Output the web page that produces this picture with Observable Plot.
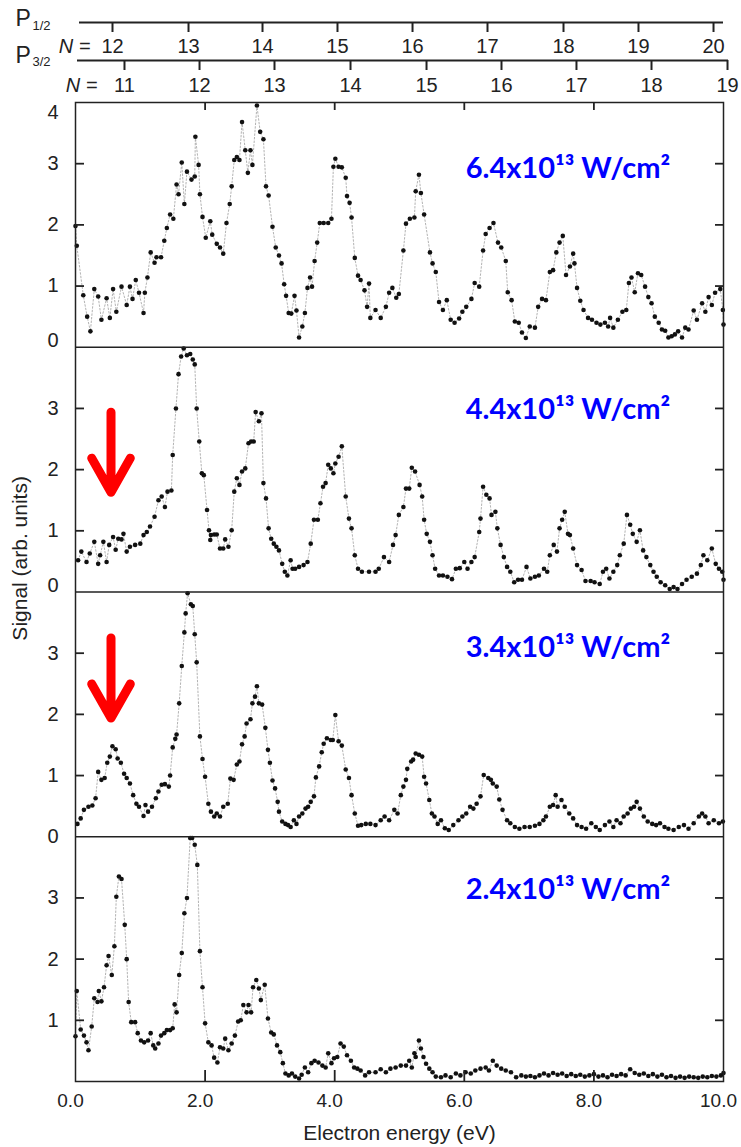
<!DOCTYPE html>
<html>
<head>
<meta charset="utf-8">
<script src="https://cdn.jsdelivr.net/npm/d3@7"></script>
<script src="https://cdn.jsdelivr.net/npm/@observablehq/plot@0.6"></script>
<style>
  html, body { margin: 0; padding: 0; background: #fff; }
  #chart svg { display: block; }
</style>
</head>
<body>
<div id="chart"></div>
<script>
// ---------------- data ----------------
const intensityLabels = ["6.4x10\u00b9\u00b3 W/cm\u00b2", "4.4x10\u00b9\u00b3 W/cm\u00b2", "3.4x10\u00b9\u00b3 W/cm\u00b2", "2.4x10\u00b9\u00b3 W/cm\u00b2"];

// 6.4e13 W/cm2 (top panel)
const e64 = [0.00,0.02,0.12,0.18,0.23,0.29,0.35,0.40,0.48,0.53,0.58,0.63,0.71,0.79,0.84,0.88,0.93,0.98,1.05,1.07,1.11,1.16,1.22,1.25,1.32,1.37,1.41,1.46,1.51,1.56,1.59,1.64,1.68,1.72,1.79,1.84,1.85,1.90,1.92,1.96,2.01,2.08,2.11,2.18,2.23,2.28,2.33,2.38,2.41,2.45,2.49,2.53,2.57,2.62,2.66,2.70,2.73,2.80,2.85,2.90,2.94,2.98,3.04,3.09,3.14,3.18,3.22,3.25,3.29,3.33,3.38,3.41,3.45,3.50,3.54,3.58,3.62,3.65,3.69,3.73,3.77,3.83,3.90,3.95,3.98,4.01,4.06,4.11,4.17,4.19,4.23,4.26,4.31,4.36,4.40,4.46,4.50,4.53,4.55,4.63,4.71,4.79,4.84,4.89,4.95,4.99,5.06,5.10,5.16,5.23,5.25,5.30,5.33,5.38,5.47,5.51,5.56,5.61,5.67,5.73,5.79,5.85,5.92,5.97,6.03,6.11,6.16,6.23,6.29,6.33,6.39,6.45,6.52,6.57,6.64,6.67,6.73,6.78,6.84,6.89,6.95,7.01,7.09,7.14,7.20,7.26,7.32,7.37,7.42,7.47,7.52,7.57,7.63,7.68,7.70,7.74,7.79,7.84,7.91,7.97,8.04,8.10,8.17,8.22,8.25,8.30,8.37,8.44,8.50,8.54,8.58,8.63,8.68,8.73,8.79,8.84,8.89,8.94,9.00,9.05,9.10,9.15,9.20,9.25,9.30,9.36,9.41,9.46,9.54,9.59,9.67,9.72,9.77,9.82,9.87,9.95,9.99,10.00];
const s64 = [1.98,1.66,0.85,0.50,0.26,0.95,0.83,0.45,0.80,0.48,0.95,0.58,0.99,0.69,0.99,0.79,1.10,0.89,0.56,0.89,1.14,1.55,1.38,1.47,1.47,1.74,1.95,2.17,2.10,2.66,2.50,3.02,2.34,2.87,2.74,2.79,3.44,2.98,2.50,2.13,1.79,2.06,1.84,1.69,1.63,1.53,2.03,2.34,2.63,3.06,3.11,3.06,3.68,3.22,2.85,3.22,2.98,3.95,3.52,3.40,2.63,2.48,1.97,1.63,1.50,1.37,1.03,0.84,0.56,0.55,0.84,0.60,0.16,0.34,0.56,0.97,1.14,0.99,1.41,1.71,2.03,2.03,2.03,2.10,2.95,3.08,2.95,2.94,2.77,2.47,2.36,2.12,1.46,1.17,1.10,0.93,0.66,1.04,0.48,0.61,0.48,0.66,0.89,0.97,0.81,0.87,1.58,2.02,2.10,2.12,2.55,2.82,2.52,2.17,1.55,1.37,1.23,0.74,0.61,0.77,0.45,0.40,0.47,0.58,0.66,0.79,1.05,0.99,1.58,1.85,1.95,2.03,1.71,1.63,1.41,0.90,0.77,0.42,0.40,0.24,0.15,0.34,0.32,0.66,0.79,0.77,1.23,1.26,1.55,1.71,1.82,1.18,1.32,1.53,1.37,0.97,0.76,0.61,0.48,0.45,0.40,0.37,0.40,0.34,0.48,0.32,0.45,0.58,0.61,1.05,1.14,0.90,1.21,1.18,0.99,0.82,0.72,0.50,0.40,0.29,0.27,0.16,0.18,0.21,0.26,0.16,0.32,0.29,0.60,0.45,0.72,0.58,0.82,0.69,0.89,0.95,0.61,0.37];

// 4.4e13 W/cm2
const e44 = [0.04,0.09,0.17,0.22,0.29,0.35,0.38,0.43,0.48,0.52,0.58,0.62,0.66,0.71,0.74,0.79,0.84,0.92,1.00,1.05,1.10,1.15,1.22,1.28,1.33,1.38,1.42,1.48,1.50,1.55,1.59,1.63,1.67,1.72,1.77,1.81,1.84,1.87,1.91,1.95,1.98,2.03,2.06,2.08,2.09,2.14,2.18,2.23,2.28,2.31,2.36,2.41,2.45,2.49,2.53,2.57,2.62,2.67,2.71,2.75,2.78,2.83,2.87,2.90,2.94,2.98,3.02,3.06,3.10,3.14,3.19,3.23,3.27,3.32,3.35,3.39,3.45,3.52,3.58,3.63,3.68,3.74,3.78,3.82,3.86,3.90,3.94,3.98,4.01,4.06,4.11,4.17,4.22,4.26,4.31,4.36,4.42,4.53,4.63,4.68,4.76,4.84,4.90,4.94,4.99,5.06,5.10,5.15,5.19,5.24,5.31,5.35,5.38,5.42,5.47,5.51,5.55,5.61,5.67,5.74,5.81,5.87,5.93,6.00,6.05,6.11,6.16,6.23,6.25,6.29,6.34,6.39,6.42,6.48,6.51,6.56,6.61,6.66,6.71,6.77,6.83,6.89,6.96,7.02,7.09,7.15,7.23,7.28,7.32,7.38,7.43,7.47,7.51,7.55,7.60,7.63,7.68,7.74,7.81,7.87,7.95,8.01,8.09,8.14,8.19,8.24,8.30,8.36,8.40,8.46,8.51,8.56,8.60,8.66,8.71,8.76,8.81,8.87,8.92,8.97,9.03,9.10,9.17,9.23,9.29,9.36,9.43,9.51,9.59,9.65,9.69,9.75,9.82,9.88,9.93,9.98,10.00];
const s44 = [0.52,0.66,0.49,0.63,0.82,0.46,0.60,0.82,0.49,0.77,0.90,0.69,0.87,0.86,0.95,0.66,0.74,0.77,0.79,0.93,0.98,1.07,1.23,1.50,1.56,1.39,1.64,1.66,2.24,3.00,3.56,3.85,3.98,3.87,3.89,3.80,3.72,3.00,2.46,1.94,1.91,1.34,1.01,0.85,0.93,0.94,0.94,0.71,0.71,0.86,0.74,1.01,1.64,1.86,1.75,1.97,2.02,2.43,2.46,2.46,2.94,2.79,2.92,1.78,1.53,1.04,0.87,0.79,0.74,0.68,0.46,0.33,0.27,0.52,0.38,0.38,0.41,0.44,0.49,0.79,1.18,1.18,1.45,1.72,1.78,2.08,2.02,1.94,2.10,2.21,2.38,1.56,1.20,1.04,0.60,0.38,0.33,0.33,0.33,0.38,0.57,0.49,0.77,0.93,1.26,1.39,1.69,1.69,2.03,1.97,1.75,1.56,1.18,0.95,0.82,0.60,0.38,0.27,0.27,0.25,0.21,0.38,0.39,0.49,0.38,0.49,0.57,0.98,1.20,1.72,1.59,1.53,1.26,1.31,1.04,0.77,0.57,0.41,0.33,0.16,0.20,0.20,0.41,0.22,0.25,0.27,0.38,0.33,0.60,0.77,0.66,1.04,1.18,1.31,0.95,0.93,0.71,0.44,0.36,0.18,0.18,0.16,0.13,0.33,0.38,0.22,0.33,0.44,0.60,0.79,1.26,1.10,0.95,0.82,1.01,0.68,0.57,0.44,0.33,0.25,0.16,0.11,0.05,0.08,0.05,0.13,0.20,0.25,0.30,0.44,0.60,0.52,0.71,0.46,0.38,0.33,0.20];

// 3.4e13 W/cm2
const e34 = [0.03,0.08,0.13,0.20,0.26,0.31,0.35,0.40,0.45,0.49,0.53,0.57,0.62,0.65,0.70,0.75,0.79,0.84,0.89,0.94,0.98,1.05,1.08,1.12,1.18,1.24,1.28,1.33,1.38,1.44,1.46,1.50,1.54,1.56,1.60,1.64,1.68,1.70,1.73,1.78,1.81,1.84,1.87,1.92,1.96,2.00,2.05,2.09,2.14,2.18,2.23,2.28,2.35,2.39,2.44,2.49,2.53,2.57,2.61,2.64,2.70,2.73,2.77,2.80,2.83,2.88,2.93,2.97,3.00,3.04,3.08,3.12,3.14,3.19,3.24,3.28,3.32,3.37,3.41,3.45,3.50,3.55,3.59,3.63,3.68,3.71,3.76,3.80,3.83,3.88,3.94,3.97,4.01,4.06,4.11,4.17,4.22,4.26,4.31,4.36,4.41,4.48,4.55,4.63,4.71,4.77,4.84,4.92,4.97,5.02,5.06,5.10,5.12,5.18,5.21,5.25,5.30,5.35,5.38,5.41,5.46,5.50,5.54,5.59,5.64,5.70,5.76,5.83,5.91,5.97,6.03,6.09,6.14,6.19,6.25,6.30,6.37,6.41,6.44,6.50,6.54,6.59,6.66,6.71,6.78,6.85,6.93,7.01,7.09,7.16,7.22,7.26,7.32,7.37,7.41,7.44,7.50,7.55,7.62,7.68,7.74,7.81,7.88,7.96,8.03,8.09,8.17,8.24,8.30,8.35,8.41,8.46,8.52,8.57,8.62,8.66,8.71,8.77,8.83,8.90,8.96,9.02,9.09,9.15,9.23,9.31,9.39,9.46,9.54,9.62,9.67,9.72,9.77,9.85,9.93,9.99];
const s34 = [0.21,0.30,0.44,0.49,0.51,0.63,1.06,0.93,0.96,1.21,1.31,1.48,1.43,1.28,1.21,1.03,0.96,0.87,0.68,0.54,0.49,0.34,0.52,0.41,0.49,0.63,0.74,0.85,0.86,0.82,1.00,1.46,1.60,1.67,2.18,2.79,3.34,3.65,3.98,3.80,3.77,3.31,2.85,1.64,1.27,0.98,0.54,0.41,0.33,0.38,0.33,0.49,0.54,0.95,0.93,1.18,1.23,1.51,1.64,1.85,1.92,2.18,2.29,2.46,2.18,2.16,1.78,1.42,1.21,0.92,0.79,0.57,0.41,0.25,0.21,0.19,0.16,0.27,0.21,0.33,0.38,0.46,0.49,0.57,0.66,0.97,1.15,1.38,1.52,1.61,1.58,1.58,1.99,1.56,1.49,1.10,0.96,0.68,0.38,0.18,0.19,0.21,0.21,0.19,0.27,0.33,0.27,0.44,0.38,0.68,0.82,0.93,1.11,1.23,1.26,1.36,1.34,1.31,0.98,0.87,0.60,0.38,0.33,0.21,0.27,0.14,0.11,0.19,0.27,0.33,0.38,0.49,0.46,0.54,0.66,1.01,0.96,0.93,0.87,0.82,0.61,0.44,0.27,0.22,0.16,0.13,0.16,0.16,0.18,0.21,0.27,0.33,0.49,0.52,0.68,0.49,0.60,0.49,0.38,0.30,0.19,0.16,0.13,0.22,0.16,0.11,0.19,0.25,0.16,0.27,0.22,0.33,0.38,0.46,0.49,0.57,0.46,0.33,0.25,0.21,0.19,0.22,0.16,0.13,0.11,0.16,0.19,0.13,0.22,0.33,0.38,0.33,0.22,0.27,0.22,0.25];

// 2.4e13 W/cm2 (bottom panel)
const e24 = [0.00,0.02,0.08,0.13,0.17,0.20,0.25,0.29,0.34,0.36,0.40,0.44,0.48,0.51,0.56,0.60,0.63,0.67,0.71,0.76,0.79,0.82,0.86,0.92,0.96,1.01,1.06,1.12,1.16,1.20,1.23,1.28,1.32,1.37,1.41,1.46,1.50,1.53,1.56,1.60,1.64,1.68,1.72,1.77,1.80,1.84,1.88,1.92,1.96,2.00,2.05,2.10,2.14,2.19,2.23,2.28,2.31,2.36,2.41,2.46,2.51,2.55,2.59,2.64,2.67,2.71,2.74,2.79,2.83,2.86,2.92,2.97,3.02,3.06,3.11,3.16,3.20,3.24,3.29,3.34,3.39,3.45,3.49,3.54,3.59,3.64,3.69,3.75,3.81,3.86,3.90,3.95,3.99,4.04,4.09,4.14,4.19,4.25,4.30,4.35,4.40,4.47,4.53,4.63,4.71,4.79,4.86,4.94,5.02,5.10,5.15,5.19,5.23,5.25,5.30,5.33,5.37,5.41,5.46,5.51,5.56,5.64,5.71,5.79,5.87,5.94,6.02,6.10,6.17,6.25,6.33,6.38,6.44,6.50,6.57,6.64,6.72,6.80,6.88,6.95,7.02,7.09,7.16,7.23,7.30,7.37,7.44,7.51,7.58,7.65,7.72,7.79,7.86,7.93,8.00,8.07,8.14,8.21,8.28,8.35,8.42,8.49,8.56,8.63,8.70,8.77,8.84,8.91,8.98,9.05,9.12,9.19,9.26,9.33,9.40,9.47,9.54,9.61,9.68,9.75,9.82,9.89,9.96,10.00];
const s24 = [0.74,1.48,0.85,0.75,0.64,0.51,0.90,1.36,1.30,1.48,1.31,1.54,1.90,2.05,1.74,2.21,3.02,3.35,3.31,2.56,2.00,1.30,0.97,0.97,0.79,0.67,0.64,0.67,0.79,0.59,0.54,0.62,0.75,0.79,0.84,0.84,0.87,1.26,1.13,1.74,2.10,2.75,3.00,3.98,3.98,3.87,3.54,2.13,1.54,0.95,0.64,0.59,0.39,0.31,0.56,0.54,0.70,0.51,0.62,0.75,0.98,1.00,1.25,1.13,1.25,1.13,1.54,1.66,1.52,1.33,1.58,1.03,0.80,0.77,0.59,0.48,0.30,0.13,0.10,0.13,0.08,0.05,0.11,0.23,0.15,0.30,0.34,0.31,0.26,0.23,0.46,0.30,0.38,0.40,0.62,0.57,0.43,0.34,0.23,0.21,0.18,0.10,0.15,0.15,0.20,0.15,0.21,0.23,0.26,0.26,0.34,0.23,0.46,0.40,0.67,0.54,0.40,0.29,0.21,0.15,0.08,0.07,0.10,0.07,0.13,0.10,0.15,0.13,0.18,0.21,0.23,0.18,0.34,0.26,0.21,0.18,0.15,0.07,0.10,0.08,0.09,0.07,0.10,0.13,0.10,0.14,0.11,0.13,0.09,0.12,0.09,0.11,0.08,0.10,0.12,0.08,0.10,0.07,0.11,0.09,0.12,0.10,0.20,0.14,0.11,0.13,0.09,0.12,0.08,0.11,0.07,0.09,0.06,0.08,0.06,0.08,0.07,0.06,0.08,0.07,0.09,0.08,0.10,0.14];

// Vertical stacking: each panel gets its own 0..4 band of the shared y scale
const panelOffsets = [12, 8, 4, 0];
const yTickValues = [1, 2, 3];
const xTickValues = [0, 2, 4, 6, 8, 10];
const xInnerTicks = [2, 4, 6, 8];

// Upper scales: Rydberg-state resonances N (P1/2 and P3/2 series)
const p12N = [12, 13, 14, 15, 16, 17, 18, 19, 20];
const p12E = [0.571, 1.744, 2.886, 4.043, 5.201, 6.358, 7.531, 8.688, 9.846];
const p32N = [11, 12, 13, 14, 15, 16, 17, 18, 19];
const p32E = [0.756, 1.914, 3.071, 4.244, 5.417, 6.574, 7.731, 8.889, 10.062];

// Red arrows marking the low-energy peak (panels 2 and 3)
const arrowPanels = [1, 2];

// ---------------- layout ----------------
const W = 741, H = 1147;
const M = {top: 102, right: 18, bottom: 66, left: 75};
const X0 = 0, X1 = 10, Y0 = 0, Y1 = 16;
const pxX = (W - M.left - M.right) / (X1 - X0);   // pixels per eV
const pxY = (H - M.top - M.bottom) / (Y1 - Y0);   // pixels per signal unit
const P12_LINE = 22, P32_LINE = 60, TOP_TICK = 10, TOP_PAD = 6;
const yAbove = px => Y1 + (M.top - px) / pxY;     // y value for a row in the top margin
const labelAnchor = {energy: 7.6, signal: [2.77, 2.83, 2.93, 2.99]};
const arrowAnchor = {energy: 0.548, tip: [null, 1.63, 1.94, null], length: 80};
const yTitleAt = 8.55;
const ink = "#222";
const font = "'Liberation Sans', Arial, Helvetica, sans-serif";

const series = [[e64, s64], [e44, s44], [e34, s34], [e24, s24]];
const rows = series.flatMap(([E, S], p) => E.map((e, j) => ({panel: p, energy: e, signal: S[j]})));
const yPos = d => panelOffsets[d.panel] + d.signal;

const yTicksAll = panelOffsets.flatMap(o => yTickValues.map(v => o + v));
const p12Map = new Map(p12E.map((e, i) => [e, p12N[i]]));
const p32Map = new Map(p32E.map((e, i) => [e, p32N[i]]));

const labelRows = intensityLabels.map((t, i) => ({text: t, energy: labelAnchor.energy, y: panelOffsets[i] + labelAnchor.signal[i]}));
const arrowRows = arrowPanels.map(p => ({energy: arrowAnchor.energy, y: panelOffsets[p] + arrowAnchor.tip[p]}));

const wing = 29.5 * Math.PI / 180;
const arrowShape = {
  draw(context, l) {
    const w = 0.49 * l;
    context.moveTo(0, 0);
    context.lineTo(0, -l);
    context.moveTo(-w * Math.sin(wing), -l + w * Math.cos(wing));
    context.lineTo(0, -l);
    context.lineTo(w * Math.sin(wing), -l + w * Math.cos(wing));
  }
};

const chart = Plot.plot({
  width: W,
  height: H,
  marginTop: M.top,
  marginRight: M.right,
  marginBottom: M.bottom,
  marginLeft: M.left,
  style: {fontFamily: font, background: "#fff", color: ink, overflow: "visible"},
  x: {domain: [X0, X1], axis: null},
  y: {domain: [Y0, Y1], axis: null},
  marks: [
    // data
    Plot.line(rows, {x: "energy", y: yPos, z: "panel", stroke: "#a0a0a0", strokeWidth: 0.8, strokeDasharray: "1.6,2"}),
    Plot.dot(rows, {x: "energy", y: yPos, r: 2.3, fill: "#111", stroke: null}),
    // panel frames
    Plot.ruleY(panelOffsets.slice(0, 3), {stroke: ink, strokeWidth: 1.5}),
    Plot.frame({stroke: ink, strokeWidth: 1.5}),
    // inward ticks
    Plot.ruleY(yTicksAll, {y: d => d, x1: X0, x2: X0 + 9 / pxX, stroke: ink, strokeWidth: 1.8}),
    Plot.ruleY(yTicksAll, {y: d => d, x1: X1 - 8 / pxX, x2: X1, stroke: ink, strokeWidth: 1.8}),
    Plot.ruleX(xInnerTicks, {x: d => d, y1: Y0, y2: Y0 + 11 / pxY, stroke: ink, strokeWidth: 1.8}),
    Plot.ruleX(xInnerTicks, {x: d => d, y1: Y1 - 8 / pxY, y2: Y1, stroke: ink, strokeWidth: 1.8}),
    // y tick labels
    Plot.text(yTicksAll, {y: d => d, text: d => String(d % 4), frameAnchor: "left", dx: -17, textAnchor: "end", lineAnchor: "middle", fontSize: 20, fill: ink}),
    Plot.text([16], {y: d => d, text: () => "4", frameAnchor: "left", dx: -17, dy: 2, textAnchor: "end", lineAnchor: "top", fontSize: 20, fill: ink}),
    Plot.text([12, 8], {y: d => d, text: () => "0", frameAnchor: "left", dx: -17, textAnchor: "end", lineAnchor: "bottom", fontSize: 20, fill: ink}),
    Plot.text([4], {y: d => d, text: () => "0", frameAnchor: "left", dx: -17, textAnchor: "end", lineAnchor: "middle", fontSize: 20, fill: ink}),
    // x tick labels + titles
    Plot.text(xTickValues, {x: d => d, text: d3.format(".1f"), frameAnchor: "bottom", dy: 12, dx: -5, lineAnchor: "top", fontSize: 19, fill: ink}),
    Plot.text(["Electron energy (eV)"], {frameAnchor: "bottom", dy: 52, textAnchor: "middle", lineAnchor: "middle", fontSize: 21, fill: ink}),
    Plot.text(["Signal (arb. units)"], {x: () => X0, y: () => yTitleAt, dx: -55, rotate: -90, textAnchor: "middle", lineAnchor: "middle", fontSize: 21, fill: ink}),
    // P1/2 scale
    Plot.ruleY([yAbove(P12_LINE)], {x1: X0 + 4 / pxX, x2: X1, stroke: ink, strokeWidth: 1.8}),
    Plot.ruleX(p12E, {x: d => d, y1: yAbove(P12_LINE), y2: yAbove(P12_LINE + TOP_TICK), stroke: ink, strokeWidth: 2}),
    Plot.text(p12E, {x: d => d, y: () => yAbove(P12_LINE + TOP_TICK + TOP_PAD), text: d => String(p12Map.get(d)), textAnchor: "middle", lineAnchor: "top", fontSize: 20, fill: ink}),
    Plot.text(["N ="], {x: () => p12E[0], y: () => yAbove(P12_LINE + TOP_TICK + TOP_PAD), dx: -22, textAnchor: "end", lineAnchor: "top", fontSize: 20, fontStyle: "italic", fill: ink}),
    // P3/2 scale
    Plot.ruleY([yAbove(P32_LINE)], {x1: X0 + 2 / pxX, x2: X1 + 5 / pxX, stroke: ink, strokeWidth: 1.8}),
    Plot.ruleX(p32E, {x: d => d, y1: yAbove(P32_LINE), y2: yAbove(P32_LINE + TOP_TICK), stroke: ink, strokeWidth: 2}),
    Plot.text(p32E, {x: d => d, y: () => yAbove(P32_LINE + TOP_TICK + TOP_PAD + 1), text: d => String(p32Map.get(d)), textAnchor: "middle", lineAnchor: "top", fontSize: 20, fill: ink}),
    Plot.text(["N ="], {x: () => p32E[0], y: () => yAbove(P32_LINE + TOP_TICK + TOP_PAD + 1), dx: -27, textAnchor: "end", lineAnchor: "top", fontSize: 20, fontStyle: "italic", fill: ink}),
    // P labels
    Plot.text(["P"], {frameAnchor: "top-left", dx: -60, dy: P12_LINE + 3 - M.top, textAnchor: "start", lineAnchor: "bottom", fontSize: 23, fill: ink}),
    Plot.text(["1/2"], {frameAnchor: "top-left", dx: -43, dy: P12_LINE + 7 - M.top, textAnchor: "start", lineAnchor: "bottom", fontSize: 13, fill: ink}),
    Plot.text(["P"], {frameAnchor: "top-left", dx: -60, dy: P32_LINE + 2 - M.top, textAnchor: "start", lineAnchor: "bottom", fontSize: 23, fill: ink}),
    Plot.text(["3/2"], {frameAnchor: "top-left", dx: -43, dy: P32_LINE + 5 - M.top, textAnchor: "start", lineAnchor: "bottom", fontSize: 13, fill: ink}),
    // intensity labels
    Plot.text(labelRows, {x: "energy", y: "y", text: "text", textAnchor: "middle", lineAnchor: "bottom", fontSize: 29, fontWeight: "bold", fontFamily: "Lato, 'Open Sans', sans-serif", fill: "#0000ff"}),
    // red arrows
    Plot.vector(arrowRows, {x: "energy", y: "y", length: arrowAnchor.length, rotate: 180, anchor: "end", shape: arrowShape, stroke: "#ff0000", strokeWidth: 9, strokeLinecap: "round", strokeLinejoin: "round"})
  ]
});

document.getElementById("chart").appendChild(chart);
</script>
</body>
</html>
